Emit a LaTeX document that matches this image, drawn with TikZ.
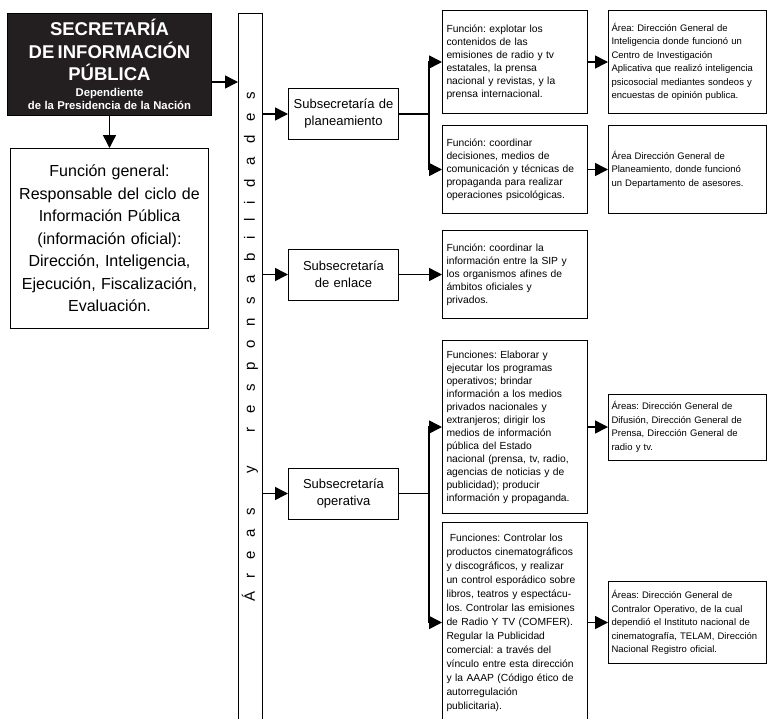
\documentclass[tikz,border=0pt]{standalone}
\usepackage{fontspec}
\setmainfont{Liberation Sans}
\usetikzlibrary{arrows.meta,positioning,calc}
\definecolor{sipblack}{RGB}{35,31,32}
\frenchspacing
\hyphenpenalty=10000
\exhyphenpenalty=10000
\tikzset{
  tri/.style={line width=1.5pt,-{Triangle[length=13pt,width=13pt]}},
  box/.style={draw,line width=1pt,anchor=north west,inner ysep=0pt},
  blackbox/.style={box,fill=sipblack,text=white,text width=198pt,inner xsep=3pt,
    minimum height=102pt,align=center},
  genbox/.style={box,text width=190pt,inner xsep=4pt,minimum height=180pt,align=center,
    font=\fontsize{16}{22.5}\selectfont},
  subbox/.style={box,text width=104pt,inner xsep=3pt,minimum height=51pt,align=center,
    font=\fontsize{13}{17}\selectfont},
  fbox/.style={box,text width=137pt,inner xsep=4pt,align=left,
    font=\fontsize{10.3}{13}\selectfont},
  abox/.style={box,text width=152pt,inner xsep=3pt,align=left,
    font=\fontsize{9.5}{13.5}\selectfont},
}
\begin{document}
\begin{tikzpicture}[x=1pt,y=-1pt]
\useasboundingbox (0,0) rectangle (767,718);
\clip (0,0) rectangle (767,718);
% secretaria y funcion general
\node[blackbox] (sip) at (7,13) {\bfseries{\fontsize{18.5}{22.5}\selectfont SECRETARÍA\\DE INFORMACIÓN\\PÚBLICA\par}
  \vspace{2pt}{\fontsize{11.3}{13.5}\selectfont Dependiente\\de la Presidencia de la Nación\par}};
\node[genbox] (fgen) at (10,148) {Función general:\\Responsable del ciclo de\\Información Pública\\(información oficial):\\Dirección, Inteligencia,\\Ejecución, Fiscalización,\\Evaluación.};
% barra vertical
\node[box,minimum width=24pt,minimum height=720pt,inner sep=0pt] (bar) at (238,13) {};
\node[rotate=90,font=\fontsize{15}{15}\selectfont] (bartext) at (250,347)
  {\spaceskip=13.7pt Á r e a s\hspace{34pt}y\hspace{34pt}r e s p o n s a b i l i d a d e s};
% subsecretarias
\node[subbox] (plan) at (288,88) {Subsecretaría de\\planeamiento};
\node[subbox] (enl) at (288,248.5) {Subsecretaría\\de enlace};
\node[subbox] (oper) at (288,467.5) {Subsecretaría\\operativa};
% funciones
\node[fbox,minimum height=103pt] (f1) at (442,10) {Función: explotar los\\contenidos de las\\emisiones de radio y tv\\estatales, la prensa\\nacional y revistas, y la\\prensa internacional.};
\node[fbox,minimum height=88pt] (f2) at (442,125) {Función: coordinar\\decisiones, medios de\\comunicación y técnicas de\\propaganda para realizar\\operaciones psicológicas.};
\node[fbox,minimum height=88pt] (f3) at (442,230) {Función: coordinar la\\información entre la SIP y\\los organismos afines de\\ámbitos oficiales y\\privados.};
\node[fbox,minimum height=173pt] (f4) at (442,340) {Funciones: Elaborar y\\ejecutar los programas\\operativos; brindar\\información a los medios\\privados nacionales y\\extranjeros; dirigir los\\medios de información\\pública del Estado\\nacional (prensa, tv, radio,\\agencias de noticias y de\\publicidad); producir\\información y propaganda.};
\node[fbox,minimum height=200pt,font=\fontsize{10.3}{14}\selectfont] (f5) at (442,522) {\ Funciones: Controlar los\\productos cinematográficos\\y discográficos, y realizar\\un control esporádico sobre\\libros, teatros y espectácu-\\los. Controlar las emisiones\\de Radio Y TV (COMFER).\\Regular la Publicidad\\comercial: a través del\\vínculo entre esta dirección\\y la AAAP (Código ético de\\autorregulación\\publicitaria).};
% areas
\node[abox,minimum height=103pt] (a1) at (608,10) {Área: Dirección General de\\Inteligencia donde funcionó un\\Centro de Investigación\\Aplicativa que realizó inteligencia\\psicosocial mediantes sondeos y\\encuestas de opinión publica.};
\node[abox,minimum height=88pt] (a2) at (608,125) {Área Dirección General de\\Planeamiento, donde funcionó\\un Departamento de asesores.};
\node[abox,minimum height=66pt] (a4) at (608,393.5) {Áreas: Dirección General de\\Difusión, Dirección General de\\Prensa, Dirección General de\\radio y tv.};
\node[abox,minimum height=82pt] (a5) at (608,581) {Áreas: Dirección General de\\Contralor Operativo, de la cual\\dependió el Instituto nacional de\\cinematografía, TELAM, Dirección\\Nacional Registro oficial.};
% flechas
\draw[tri] ([yshift=-69pt]sip.north east) -- ([yshift=-69pt]sip.north east -| bar.west);
\draw[tri] (sip.south) -- (fgen.north);
\draw[tri] (plan.west -| bar.east) -- (plan.west);
\draw[tri] (enl.west -| bar.east) -- (enl.west);
\draw[tri] (oper.west -| bar.east) -- (oper.west);
\draw[tri] (plan.east) -- ++(30,0) |- (f1.west);
\draw[tri] (plan.east) -- ++(30,0) |- (f2.west);
\draw[tri] (enl.east) -- (enl.east -| f3.west);
\draw[tri] (oper.east) -- ++(30,0) |- (f4.west);
\draw[tri] (oper.east) -- ++(30,0) |- (f5.west);
\draw[tri] (f1.east) -- (f1.east -| a1.west);
\draw[tri] (f2.east) -- (f2.east -| a2.west);
\draw[tri] (f4.east) -- (f4.east -| a4.west);
\draw[tri] (f5.east) -- (f5.east -| a5.west);
\end{tikzpicture}
\end{document}
